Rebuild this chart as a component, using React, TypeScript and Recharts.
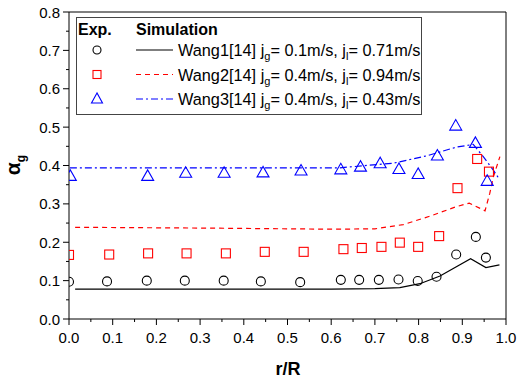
import React from 'react'
import { ComposedChart, Line, Scatter, XAxis, YAxis, ReferenceLine } from 'recharts'

// experimental points (r/R, alpha_g)
const exp1R = [0, 0.087, 0.178, 0.265, 0.354, 0.439, 0.529, 0.622, 0.664, 0.709, 0.754, 0.798, 0.841, 0.886, 0.931, 0.954]
const exp1A = [0.097, 0.098, 0.1, 0.1, 0.1, 0.098, 0.096, 0.102, 0.102, 0.102, 0.103, 0.099, 0.11, 0.168, 0.214, 0.16]

const exp2R = [0, 0.092, 0.181, 0.269, 0.359, 0.448, 0.537, 0.628, 0.67, 0.715, 0.757, 0.799, 0.847, 0.889, 0.934, 0.961]
const exp2A = [0.167, 0.168, 0.171, 0.171, 0.171, 0.175, 0.175, 0.182, 0.185, 0.188, 0.199, 0.188, 0.216, 0.341, 0.417, 0.384]

const exp3R = [0.003, 0.18, 0.267, 0.355, 0.444, 0.531, 0.622, 0.667, 0.712, 0.755, 0.799, 0.843, 0.885, 0.93, 0.957]
const exp3A = [0.373, 0.373, 0.381, 0.381, 0.382, 0.387, 0.39, 0.397, 0.406, 0.391, 0.378, 0.426, 0.504, 0.459, 0.36]

// simulation curves
const sim1R = [0.014, 0.3, 0.6, 0.7, 0.757, 0.803, 0.849, 0.919, 0.954, 0.985]
const sim1A = [0.078, 0.078, 0.078, 0.079, 0.082, 0.092, 0.112, 0.157, 0.134, 0.141]

const sim2R = [0.014, 0.3, 0.6, 0.7, 0.765, 0.826, 0.887, 0.916, 0.952, 0.963, 0.971, 0.986]
const sim2A = [0.239, 0.237, 0.234, 0.235, 0.246, 0.268, 0.293, 0.302, 0.282, 0.328, 0.37, 0.423]

const sim3R = [0.002, 0.3, 0.62, 0.67, 0.742, 0.818, 0.887, 0.925, 0.948, 0.971, 0.985]
const sim3A = [0.394, 0.394, 0.394, 0.399, 0.406, 0.425, 0.448, 0.455, 0.423, 0.388, 0.364]

const xTicks = [0, 0.05, 0.1, 0.15, 0.2, 0.25, 0.3, 0.35, 0.4, 0.45, 0.5, 0.55, 0.6, 0.65, 0.7, 0.75, 0.8, 0.85, 0.9, 0.95, 1.0]
const yTicks = [0, 0.05, 0.1, 0.15, 0.2, 0.25, 0.3, 0.35, 0.4, 0.45, 0.5, 0.55, 0.6, 0.65, 0.7, 0.75, 0.8]

const FONT = '"Liberation Sans", Arial, sans-serif'

const toPts = (xs: number[], ys: number[]) => xs.map((x, i) => ({ x, y: ys[i] }))

const isMajor = (v: number) => Math.round(v * 100) % 10 === 0

const XTick = ({ x, y, payload }: any) => {
  const major = isMajor(payload.value)
  return (
    <g>
      <line x1={x} x2={x} y1={y} y2={y + (major ? 6 : 3)} stroke="#000" />
      {major && (
        <text x={x} y={y + 24} textAnchor="middle" fontSize={15} fontFamily={FONT} fill="#000">
          {payload.value.toFixed(1)}
        </text>
      )}
    </g>
  )
}

const YTick = ({ x, y, payload }: any) => {
  const major = isMajor(payload.value)
  return (
    <g>
      <line x1={x} x2={x - (major ? 6 : 3)} y1={y} y2={y} stroke="#000" />
      {major && (
        <text x={x - 9} y={y + 5.5} textAnchor="end" fontSize={15} fontFamily={FONT} fill="#000">
          {payload.value.toFixed(1)}
        </text>
      )}
    </g>
  )
}

const CircleDot = ({ cx, cy }: any) => (
  <circle cx={cx} cy={cy} r={4.5} fill="none" stroke="#000" strokeWidth={1.1} />
)
const SquareDot = ({ cx, cy }: any) => (
  <rect x={cx - 4.5} y={cy - 4.5} width={9} height={9} fill="none" stroke="#ff0000" strokeWidth={1.1} />
)
const TriDot = ({ cx, cy }: any) => (
  <polygon
    points={`${cx},${cy - 6} ${cx - 6},${cy + 4.5} ${cx + 6},${cy + 4.5}`}
    fill="none"
    stroke="#0000ff"
    strokeWidth={1.1}
  />
)

const legendRows = [
  { name: 'Wang1[14] j', jg: '0.1', jl: '0.71' },
  { name: 'Wang2[14] j', jg: '0.4', jl: '0.94' },
  { name: 'Wang3[14] j', jg: '0.4', jl: '0.43' },
]

export default function App() {
  return (
    <div style={{ position: 'absolute', left: 0, top: 0, width: 521, height: 380, background: '#fff' }}>
      <ComposedChart width={521} height={380} margin={{ top: 12, right: 15, left: 9, bottom: 31 }}>
        <XAxis
          dataKey="x"
          type="number"
          domain={[0, 1]}
          ticks={xTicks}
          interval={0}
          height={30}
          tickSize={0}
          tickMargin={0}
          tickLine={false}
          tick={<XTick />}
          axisLine={{ stroke: '#000' }}
          allowDataOverflow
        />
        <YAxis
          dataKey="y"
          type="number"
          domain={[0, 0.8]}
          ticks={yTicks}
          interval={0}
          width={60}
          tickSize={0}
          tickMargin={0}
          tickLine={false}
          tick={<YTick />}
          axisLine={{ stroke: '#000' }}
          allowDataOverflow
        />
        <ReferenceLine y={0.8} stroke="#000" />
        <ReferenceLine x={1} stroke="#000" />
        <Line data={toPts(sim1R, sim1A)} dataKey="y" stroke="#000" strokeWidth={1.2} dot={false} isAnimationActive={false} />
        <Line data={toPts(sim2R, sim2A)} dataKey="y" stroke="#ff0000" strokeWidth={1.2} strokeDasharray="5 4" dot={false} isAnimationActive={false} />
        <Line data={toPts(sim3R, sim3A)} dataKey="y" stroke="#0000ff" strokeWidth={1.2} strokeDasharray="7 3 2 3" dot={false} isAnimationActive={false} />
        <Scatter data={toPts(exp1R, exp1A)} dataKey="y" shape={<CircleDot />} isAnimationActive={false} />
        <Scatter data={toPts(exp2R, exp2A)} dataKey="y" shape={<SquareDot />} isAnimationActive={false} />
        <Scatter data={toPts(exp3R, exp3A)} dataKey="y" shape={<TriDot />} isAnimationActive={false} />
      </ComposedChart>
      <svg
        width={521}
        height={380}
        style={{ position: 'absolute', left: 0, top: 0, pointerEvents: 'none' }}
        fontFamily={FONT}
      >
        <text x={288} y={375} textAnchor="middle" fontSize={18} fontWeight="bold">r/R</text>
        <text transform="translate(20,165) rotate(-90)" textAnchor="middle" fontSize={21} fontWeight="bold">
          α<tspan dy={5} fontSize={12}>g</tspan>
        </text>
        <rect x={76.5} y={17.5} width={345} height={97} fill="#fff" stroke="#444" />
        <text x={78} y={35} fontSize={16} fontWeight="bold">Exp.</text>
        <text x={136} y={35} fontSize={16} fontWeight="bold">Simulation</text>
        <circle cx={97} cy={50} r={4} fill="none" stroke="#000" strokeWidth={1.1} />
        <rect x={93} y={70.5} width={8} height={8} fill="none" stroke="#ff0000" strokeWidth={1.1} />
        <polygon points="97,93 91.5,103 102.5,103" fill="none" stroke="#0000ff" strokeWidth={1.1} />
        <line x1={136} x2={173} y1={50} y2={50} stroke="#000" strokeWidth={1.2} />
        <line x1={136} x2={173} y1={74.5} y2={74.5} stroke="#ff0000" strokeWidth={1.2} strokeDasharray="5 4" />
        <line x1={136} x2={173} y1={99} y2={99} stroke="#0000ff" strokeWidth={1.2} strokeDasharray="7 3 2 3" />
        {legendRows.map((r, i) => (
          <text key={r.name} x={178} y={56 + i * 24.5} fontSize={16.3}>
            {r.name}
            <tspan dy={4} fontSize={11}>g</tspan>
            <tspan dy={-4}>{`= ${r.jg}m/s, j`}</tspan>
            <tspan dy={4} fontSize={11}>l</tspan>
            <tspan dy={-4}>{`= ${r.jl}m/s`}</tspan>
          </text>
        ))}
      </svg>
    </div>
  )
}
